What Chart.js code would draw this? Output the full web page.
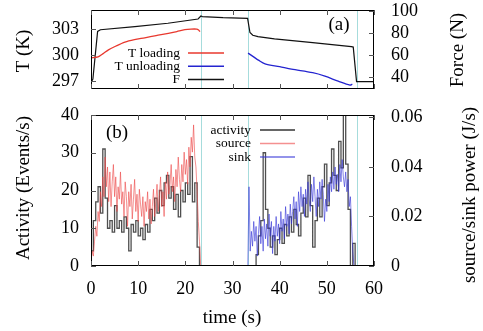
<!DOCTYPE html>
<html>
<head>
<meta charset="utf-8">
<script src="https://cdn.jsdelivr.net/npm/chart.js@4"></script>
<style>
  body { margin: 0; background: #fff; }
  #wrap { position: relative; width: 483px; height: 331px; }
  canvas { position: absolute; left: 0; }
</style>
</head>
<body>
<div id="wrap">
  <canvas id="top" width="483" height="100" style="top:0"></canvas>
  <canvas id="bottom" width="483" height="231" style="top:100px"></canvas>
</div>
<script>
// panel (a): temperature and force
var tLoadTime = [0, 1.5, 2.5, 3.7, 5.3, 7.2, 9.2, 11.4, 13.8, 16.4, 18.2, 19.9, 21.2, 22.4, 22.8, 23.1];
var tLoad = [299.7, 299.8, 300.15, 300.6, 301.05, 301.5, 301.78, 302.0, 302.25, 302.5, 302.72, 302.93, 303.0, 303.0, 302.9, 302.7];

var tUnloadTime = [33.3, 34.4, 35.5, 36.9, 40, 42.5, 47, 49.6, 52.4, 54.9, 55.4];
var tUnload = [300.23, 299.83, 299.42, 299.0, 298.67, 298.38, 297.98, 297.58, 297.0, 296.54, 296.65];

var forceTime = [0.1, 0.4, 1.4, 2.0, 9.3, 16.3, 22.7, 23.3, 23.6, 28, 33.2, 33.7, 34.3, 35.4, 38.9, 47, 55.2, 55.6, 56.3, 60];
var force = [35.7, 38, 81.5, 83, 85.8, 88.9, 92.8, 95.5, 95.0, 94.0, 93.4, 80.5, 78.0, 76.7, 74.6, 71.3, 67.6, 67.2, 35.7, 35.7];

// panel (b): activity (events/s, 0.5 s bins) and source/sink power (J/s, 0.25 s samples)
var activityStart = 0, activityStep = 0.5;
var activity = [
  0, 4, 12, 17, 21, 14, 31, 18, 10, 12, 9, 16, 10, 12, 9, 13, 10, 4, 11, 9,
  12, 8, 10, 7, 11, 9, 15, 12, 18, 14, 20, 16, 22, 24, 18, 21, 15, 19, 13, 20,
  17, 22, 19, 29, 17, 22, 5,
  0, 0, 0, 0, 0, 0, 0, 0, 0, 0, 0, 0, 0, 0, 0, 0, 0, 0, 0, 0, 0, 0, 0,
  0, 3, 8, 12, 30, 15, 10, 5, 8, 3, 7, 10, 6, 11, 8, 13, 9, 15, 11, 8,
  14, 18, 13, 24, 16, 5, 12, 18, 13, 21, 27, 16, 22, 31, 24, 20, 33, 26, 40, 27,
  15, 0, 6, 0,
  0, 0, 0, 0, 0, 0, 0
];

var sourceStart = 0, sourceStep = 0.25;
var source = [
  0.002, 0.006, 0.004, 0.010, 0.016, 0.012, 0.022, 0.018, 0.030, 0.024, 0.036, 0.028,
  0.044, 0.032, 0.040, 0.026, 0.038, 0.024, 0.034, 0.041, 0.028, 0.036, 0.022, 0.032,
  0.027, 0.038, 0.025, 0.030, 0.020, 0.034, 0.028, 0.016, 0.030, 0.024, 0.033, 0.019,
  0.027, 0.035, 0.022, 0.029, 0.018, 0.031, 0.025, 0.020, 0.028, 0.016, 0.026, 0.022,
  0.030, 0.019, 0.027, 0.017, 0.024, 0.031, 0.020, 0.026, 0.033, 0.022, 0.028, 0.036,
  0.024, 0.030, 0.020, 0.034, 0.027, 0.038, 0.029, 0.033, 0.041, 0.030, 0.036, 0.026,
  0.039, 0.032, 0.044, 0.035, 0.030, 0.041, 0.034, 0.046, 0.037, 0.043, 0.033, 0.048,
  0.040, 0.052, 0.046, 0.057, 0.044, 0.040, 0.030, 0.018, 0.010, 0.000
];

var sinkStart = 33.25, sinkStep = 0.25;
var sink = [
  0, 0.032, 0.006, 0.014, 0.008, 0.018, 0.010, 0.016, 0.004, 0.013, 0.020, 0.009,
  0.016, 0.006, 0.019, 0.011, 0.017, 0.008, 0.021, 0.012, 0.018, 0.005, 0.016, 0.010,
  0.020, 0.012, 0.017, 0.009, 0.022, 0.014, 0.019, 0.011, 0.024, 0.016, 0.021, 0.013,
  0.025, 0.017, 0.022, 0.028, 0.019, 0.026, 0.016, 0.030, 0.022, 0.032, 0.024, 0.029,
  0.020, 0.031, 0.025, 0.034, 0.027, 0.022, 0.033, 0.026, 0.036, 0.028, 0.020, 0.031,
  0.024, 0.034, 0.027, 0.035, 0.029, 0.018, 0.027, 0.022, 0.033, 0.026, 0.036, 0.030,
  0.038, 0.031, 0.040, 0.033, 0.037, 0.030, 0.041, 0.034, 0.043, 0.036, 0.032, 0.038,
  0.030, 0.035, 0.024, 0.028, 0.016, 0.006, 0
];

var phaseLines = [23.4, 33.3, 56.3];
var xTicks = [0, 10, 20, 30, 40, 50, 60];
var tempTicks = [297, 300, 303];
var forceTicks = [40, 60, 80, 100];
var activityTicks = [0, 10, 20, 30, 40];
var powerTicks = [0, 0.02, 0.04, 0.06];

function pairs(xs, ys) {
  return ys.map(function(y, i) { return { x: xs[i], y: y }; });
}
function series(start, step, ys) {
  return ys.map(function(y, i) { return { x: start + i * step, y: y }; });
}

var SERIF = "'Liberation Serif', 'DejaVu Serif', serif";

// frame, inward ticks, phase markers, gnuplot-style key and labels
var decor = {
  id: 'decor',
  beforeDatasetsDraw: function(chart) {
    var ctx = chart.ctx, a = chart.chartArea;
    ctx.save();
    ctx.strokeStyle = '#a6dcdc';
    ctx.lineWidth = 1;
    phaseLines.forEach(function(t) {
      var x = Math.round(chart.scales.x.getPixelForValue(t)) + 0.5;
      ctx.beginPath(); ctx.moveTo(x, a.top); ctx.lineTo(x, a.bottom); ctx.stroke();
    });
    ctx.restore();
  },
  afterDraw: function(chart, args, opts) {
    var ctx = chart.ctx, a = chart.chartArea;
    ctx.save();
    ctx.strokeStyle = '#000';
    ctx.lineWidth = 1;
    ctx.strokeRect(a.left + 0.5, a.top + 0.5, a.right - a.left - 1, a.bottom - a.top - 1);

    var len = 5;
    ctx.strokeStyle = '#555';
    chart.scales.x.ticks.forEach(function(t) {
      var x = Math.round(chart.scales.x.getPixelForValue(t.value)) + 0.5;
      ctx.beginPath();
      ctx.moveTo(x, a.bottom); ctx.lineTo(x, a.bottom - len);
      ctx.moveTo(x, a.top); ctx.lineTo(x, a.top + len);
      ctx.stroke();
    });
    chart.scales.yL.ticks.forEach(function(t) {
      var y = Math.round(chart.scales.yL.getPixelForValue(t.value)) + 0.5;
      ctx.beginPath(); ctx.moveTo(a.left, y); ctx.lineTo(a.left + len, y); ctx.stroke();
    });
    chart.scales.yR.ticks.forEach(function(t) {
      var y = Math.round(chart.scales.yR.getPixelForValue(t.value)) + 0.5;
      ctx.beginPath(); ctx.moveTo(a.right, y); ctx.lineTo(a.right - len, y); ctx.stroke();
    });

    // key
    ctx.fillStyle = '#000';
    ctx.font = '13.5px ' + SERIF;
    ctx.textAlign = 'right';
    ctx.textBaseline = 'middle';
    opts.key.rows.forEach(function(r, i) {
      var y = opts.key.y + i * opts.key.step;
      ctx.fillText(r.label, opts.key.textX, y);
      ctx.strokeStyle = r.color;
      ctx.lineWidth = 1.5;
      ctx.beginPath(); ctx.moveTo(opts.key.x1, y); ctx.lineTo(opts.key.x2, y); ctx.stroke();
    });

    // panel label
    ctx.font = '19px ' + SERIF;
    ctx.textAlign = 'center';
    ctx.fillText(opts.panel.text, opts.panel.x, opts.panel.y);

    // axis titles, all reading upwards
    ctx.font = '19px ' + SERIF;
    opts.titles.forEach(function(t) {
      ctx.save();
      ctx.translate(t.x, t.y);
      if (t.rotate) ctx.rotate(-Math.PI / 2);
      ctx.fillText(t.text, 0, 0);
      ctx.restore();
    });
    ctx.restore();
  }
};

function tickFont() { return { family: SERIF, size: 18 }; }

function yAxis(pos, min, max, list, width, fmt) {
  return {
    type: 'linear',
    position: pos,
    min: min,
    max: max,
    grid: { display: false, drawTicks: false, tickLength: 0 },
    border: { display: false },
    afterBuildTicks: function(s) { s.ticks = list.map(function(v) { return { value: v }; }); },
    afterFit: function(s) { s.width = width; s.paddingTop = 0; s.paddingBottom = 0; },
    ticks: {
      autoSkip: false,
      color: '#000',
      font: tickFont(),
      padding: pos === 'left' ? 12 : 17,
      callback: fmt || function(v) { return v; }
    }
  };
}

function xAxis(showLabels, height) {
  return {
    type: 'linear',
    min: 0,
    max: 60,
    grid: { display: false, drawTicks: false, tickLength: 0 },
    border: { display: false },
    afterBuildTicks: function(s) { s.ticks = xTicks.map(function(v) { return { value: v }; }); },
    afterFit: function(s) { s.height = height; s.paddingLeft = 0; s.paddingRight = 0; },
    ticks: { autoSkip: false, display: showLabels, color: '#000', font: tickFont(), padding: 12, maxRotation: 0 }
  };
}

Chart.defaults.animation = false;

new Chart(document.getElementById('top'), {
  type: 'line',
  data: {
    datasets: [
      { label: 'T loading', data: pairs(tLoadTime, tLoad), yAxisID: 'yL', borderColor: '#e8382e', borderWidth: 1.3, pointRadius: 0, tension: 0.3 },
      { label: 'T unloading', data: pairs(tUnloadTime, tUnload), yAxisID: 'yL', borderColor: '#2424d0', borderWidth: 1.3, pointRadius: 0, tension: 0.3 },
      { label: 'F', data: pairs(forceTime, force), yAxisID: 'yR', borderColor: '#111', borderWidth: 1.2, pointRadius: 0 }
    ]
  },
  options: {
    responsive: false,
    maintainAspectRatio: false,
    layout: { autoPadding: false, padding: { top: 10, left: 0, right: 0, bottom: 0 } },
    scales: {
      x: xAxis(false, 11),
      yL: yAxis('left', 296.1, 305.2, tempTicks, 91),
      yR: yAxis('right', 29, 101, forceTicks, 109)
    },
    plugins: {
      legend: { display: false },
      tooltip: { enabled: false },
      decor: {
        key: {
          rows: [
            { label: 'T loading', color: '#e8382e' },
            { label: 'T unloading', color: '#2424d0' },
            { label: 'F', color: '#111' }
          ],
          textX: 180, x1: 188, x2: 224, y: 53, step: 13.3
        },
        panel: { text: '(a)', x: 339, y: 25 },
        titles: [
          { text: 'T (K)', x: 24, y: 51, rotate: true },
          { text: 'Force (N)', x: 458, y: 50, rotate: true }
        ]
      }
    }
  },
  plugins: [decor]
});

new Chart(document.getElementById('bottom'), {
  type: 'line',
  data: {
    datasets: [
      { label: 'source', data: series(sourceStart, sourceStep, source), yAxisID: 'yR', borderColor: 'rgba(236,70,70,0.6)', borderWidth: 1, pointRadius: 0 },
      { label: 'sink', data: series(sinkStart, sinkStep, sink), yAxisID: 'yR', borderColor: 'rgba(50,50,215,0.6)', borderWidth: 1, pointRadius: 0 },
      { label: 'activity', data: series(activityStart, activityStep, activity), yAxisID: 'yL', borderColor: 'rgba(20,20,20,0.75)', borderWidth: 1.3, pointRadius: 0, stepped: 'after' }
    ]
  },
  options: {
    responsive: false,
    maintainAspectRatio: false,
    layout: { autoPadding: false, padding: { top: 15, left: 0, right: 0, bottom: 0 } },
    scales: {
      x: xAxis(true, 65),
      yL: yAxis('left', 0, 40, activityTicks, 91),
      yR: yAxis('right', 0, 0.061, powerTicks, 109, function(v) { return v === 0 ? '0' : v.toFixed(2); })
    },
    plugins: {
      legend: { display: false },
      tooltip: { enabled: false },
      decor: {
        key: {
          rows: [
            { label: 'activity', color: '#333' },
            { label: 'source', color: 'rgba(236,70,70,0.6)' },
            { label: 'sink', color: 'rgba(50,50,215,0.7)' }
          ],
          textX: 251, x1: 260, x2: 295, y: 30, step: 13.5
        },
        panel: { text: '(b)', x: 117, y: 33 },
        titles: [
          { text: 'Activity (Events/s)', x: 24, y: 88, rotate: true },
          { text: 'source/sink power (J/s)', x: 470, y: 95, rotate: true },
          { text: 'time (s)', x: 232, y: 218, rotate: false }
        ]
      }
    }
  },
  plugins: [decor]
});
</script>
</body>
</html>
